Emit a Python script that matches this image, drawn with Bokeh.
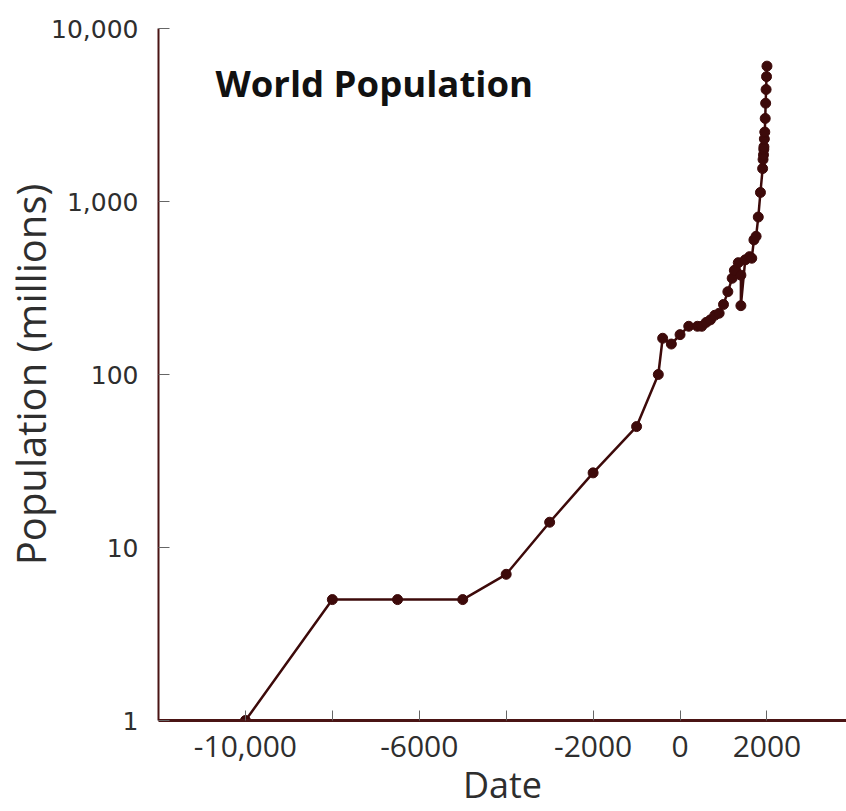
from bokeh.plotting import figure
from bokeh.models import Range1d, FixedTicker, Label
from bokeh.embed import file_html
from bokeh.resources import INLINE

# ---- data ----
years = [-10000, -8000, -6500, -5000, -4000, -3000, -2000, -1000, -500, -400,
         -200, 0, 200, 400, 500, 600, 700, 800, 900, 1000,
         1100, 1200, 1250, 1340, 1400, 1400, 1500, 1600, 1650, 1700,
         1750, 1800, 1850, 1900, 1910, 1920, 1927, 1930, 1940, 1950,
         1960, 1970, 1980, 1990, 2000]
population = [1, 5, 5, 5, 7, 14, 27, 50, 100, 162,
              150, 170, 190, 190, 190, 200, 207, 220, 226, 254,
              301, 360, 400, 443, 375, 250, 460, 480, 470, 600,
              629, 813, 1128, 1550, 1750, 1860, 2000, 2070, 2300, 2520,
              3020, 3700, 4440, 5270, 6060]

x_tick_values = [-10000, -8000, -6000, -4000, -2000, 0, 2000]
x_tick_labels = ["-10,000", "", "-6000", "", "-2000", "0", "2000"]
y_tick_values = [1, 10, 100, 1000, 10000]
y_tick_labels = ["1", "10", "100", "1,000", "10,000"]

title_text = "World Population"
x_title = "Date"
y_title = "Population (millions)"

MAROON = "#3d0a0a"
AXIS = "#4a1414"
TEXT = "#2e2e2e"

p = figure(width=846, height=811, y_axis_type="log",
           x_range=Range1d(-12000, 3830), y_range=Range1d(1, 10000),
           output_backend="svg", toolbar_location=None, title=None,
           min_border_left=158, min_border_right=0,
           min_border_top=28, min_border_bottom=91)
p.outline_line_color = None
p.xgrid.visible = False
p.ygrid.visible = False
p.background_fill_color = "white"
p.border_fill_color = "white"

p.line(years, population, line_color=MAROON, line_width=2.5)
p.scatter(years, population, size=10, fill_color=MAROON, line_color=MAROON)

# x axis
xa = p.xaxis[0]
xa.ticker = FixedTicker(ticks=x_tick_values)
xa.major_label_overrides = {v: s for v, s in zip(x_tick_values, x_tick_labels)}
xa.major_tick_in = 10
xa.major_tick_out = 0
xa.minor_tick_in = 0
xa.minor_tick_out = 0
xa.major_tick_line_color = "#666666"
xa.major_tick_line_width = 1
xa.axis_line_color = AXIS
xa.axis_line_width = 3
xa.major_label_text_font = "Open Sans"
xa.major_label_text_font_size = "30px"
xa.major_label_text_color = TEXT
xa.major_label_standoff = 15
xa.axis_label = x_title
xa.axis_label_text_font = "Open Sans"
xa.axis_label_text_font_size = "36px"
xa.axis_label_text_font_style = "normal"
xa.axis_label_text_color = TEXT
xa.axis_label_standoff = 0

# y axis
ya = p.yaxis[0]
ya.ticker = FixedTicker(ticks=y_tick_values)
ya.major_label_overrides = {v: s for v, s in zip(y_tick_values, y_tick_labels)}
ya.major_tick_in = 11
ya.major_tick_out = 0
ya.minor_tick_in = 0
ya.minor_tick_out = 0
ya.major_tick_line_color = "#666666"
ya.major_tick_line_width = 1
ya.axis_line_color = AXIS
ya.axis_line_width = 2
ya.major_label_text_font = "DejaVu Sans"
ya.major_label_text_font_size = "25px"
ya.major_label_text_color = TEXT
ya.major_label_standoff = 20
ya.axis_label = y_title
ya.axis_label_text_font = "Open Sans"
ya.axis_label_text_font_size = "40px"
ya.axis_label_text_font_style = "normal"
ya.axis_label_text_color = TEXT
ya.axis_label_standoff = -10

# chart title inside the plot area
p.add_layout(Label(x=-10690, y=4870, text=title_text, text_font="Open Sans",
                   text_font_style="bold", text_font_size="36.5px",
                   text_color="#111111", text_baseline="middle", text_align="left"))

open("out.html", "w").write(file_html(p, INLINE))
